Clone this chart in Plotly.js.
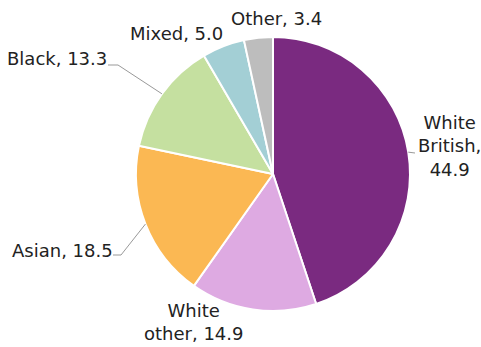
<!DOCTYPE html>
<html><head><meta charset="utf-8">
<script src="https://cdn.plot.ly/plotly-3.0.1.min.js"></script>
<style>html,body{margin:0;padding:0;background:#fff}</style>
</head><body>
<div id="chart" style="width:481px;height:347px"></div>
<script>
const categories = ["White British", "White other", "Asian", "Black", "Mixed", "Other"];
const labelText = ["White<br>British,<br>44.9", "White<br>other, 14.9", "Asian, 18.5", "Black, 13.3", "Mixed, 5.0", "Other, 3.4"];
const values = [44.9, 14.9, 18.5, 13.3, 5.0, 3.4];
const colors = ["#7A2A80", "#DEAAE2", "#FBB853", "#C5E0A0", "#A3CFD5", "#BDBDBD"];

// layout settings (pixels)
const W = 481, H = 347;
const cx = 273, cy = 174, R = 137;
// label anchors and leader-line elbows (layout, not data)
const labelPos = [[449,146],[193,322],[62,250],[57,59],[176,34],[276,19]];
const elbow = [[415,153],null,[121,255],[118,65],null,null];
const elbowEnd = [[415,153],null,[113,255],[108,65],null,null];

const total = values.reduce((a,b)=>a+b,0);
const annotations = [], shapes = [];
let cum = 0;
values.forEach((v,i)=>{
  const mid = (cum + v/2)/total*2*Math.PI;
  cum += v;
  const ex = cx + R*Math.sin(mid), ey = cy - R*Math.cos(mid);
  annotations.push({x: labelPos[i][0]/W, y: 1-labelPos[i][1]/H, xref:'paper', yref:'paper',
    text: labelText[i], showarrow:false, xanchor:'center', yanchor:'middle', align:'center',
    font:{family:'DejaVu Sans, Verdana, sans-serif', size:18, color:'#222'}});
  if (elbow[i]) {
    shapes.push({type:'path', xref:'paper', yref:'paper',
      path: `M ${ex/W} ${1-ey/H} L ${elbow[i][0]/W} ${1-elbow[i][1]/H} L ${elbowEnd[i][0]/W} ${1-elbowEnd[i][1]/H}`,
      line:{color:'#999', width:1}});
  }
});

const data = [{
  type:'pie', labels:categories, values:values, sort:false, direction:'clockwise', rotation:0,
  marker:{colors:colors, line:{color:'#fff', width:2}},
  textinfo:'none', hoverinfo:'label+value', showlegend:false,
  domain:{x:[(cx-R)/W,(cx+R)/W], y:[(H-cy-R)/H,(H-cy+R)/H]}
}];
const layout = {width:W, height:H, margin:{l:0,r:0,t:0,b:0}, paper_bgcolor:'#fff',
  annotations:annotations, shapes:shapes, showlegend:false};
Plotly.newPlot('chart', data, layout, {displayModeBar:false, staticPlot:true});
</script>
</body></html>
